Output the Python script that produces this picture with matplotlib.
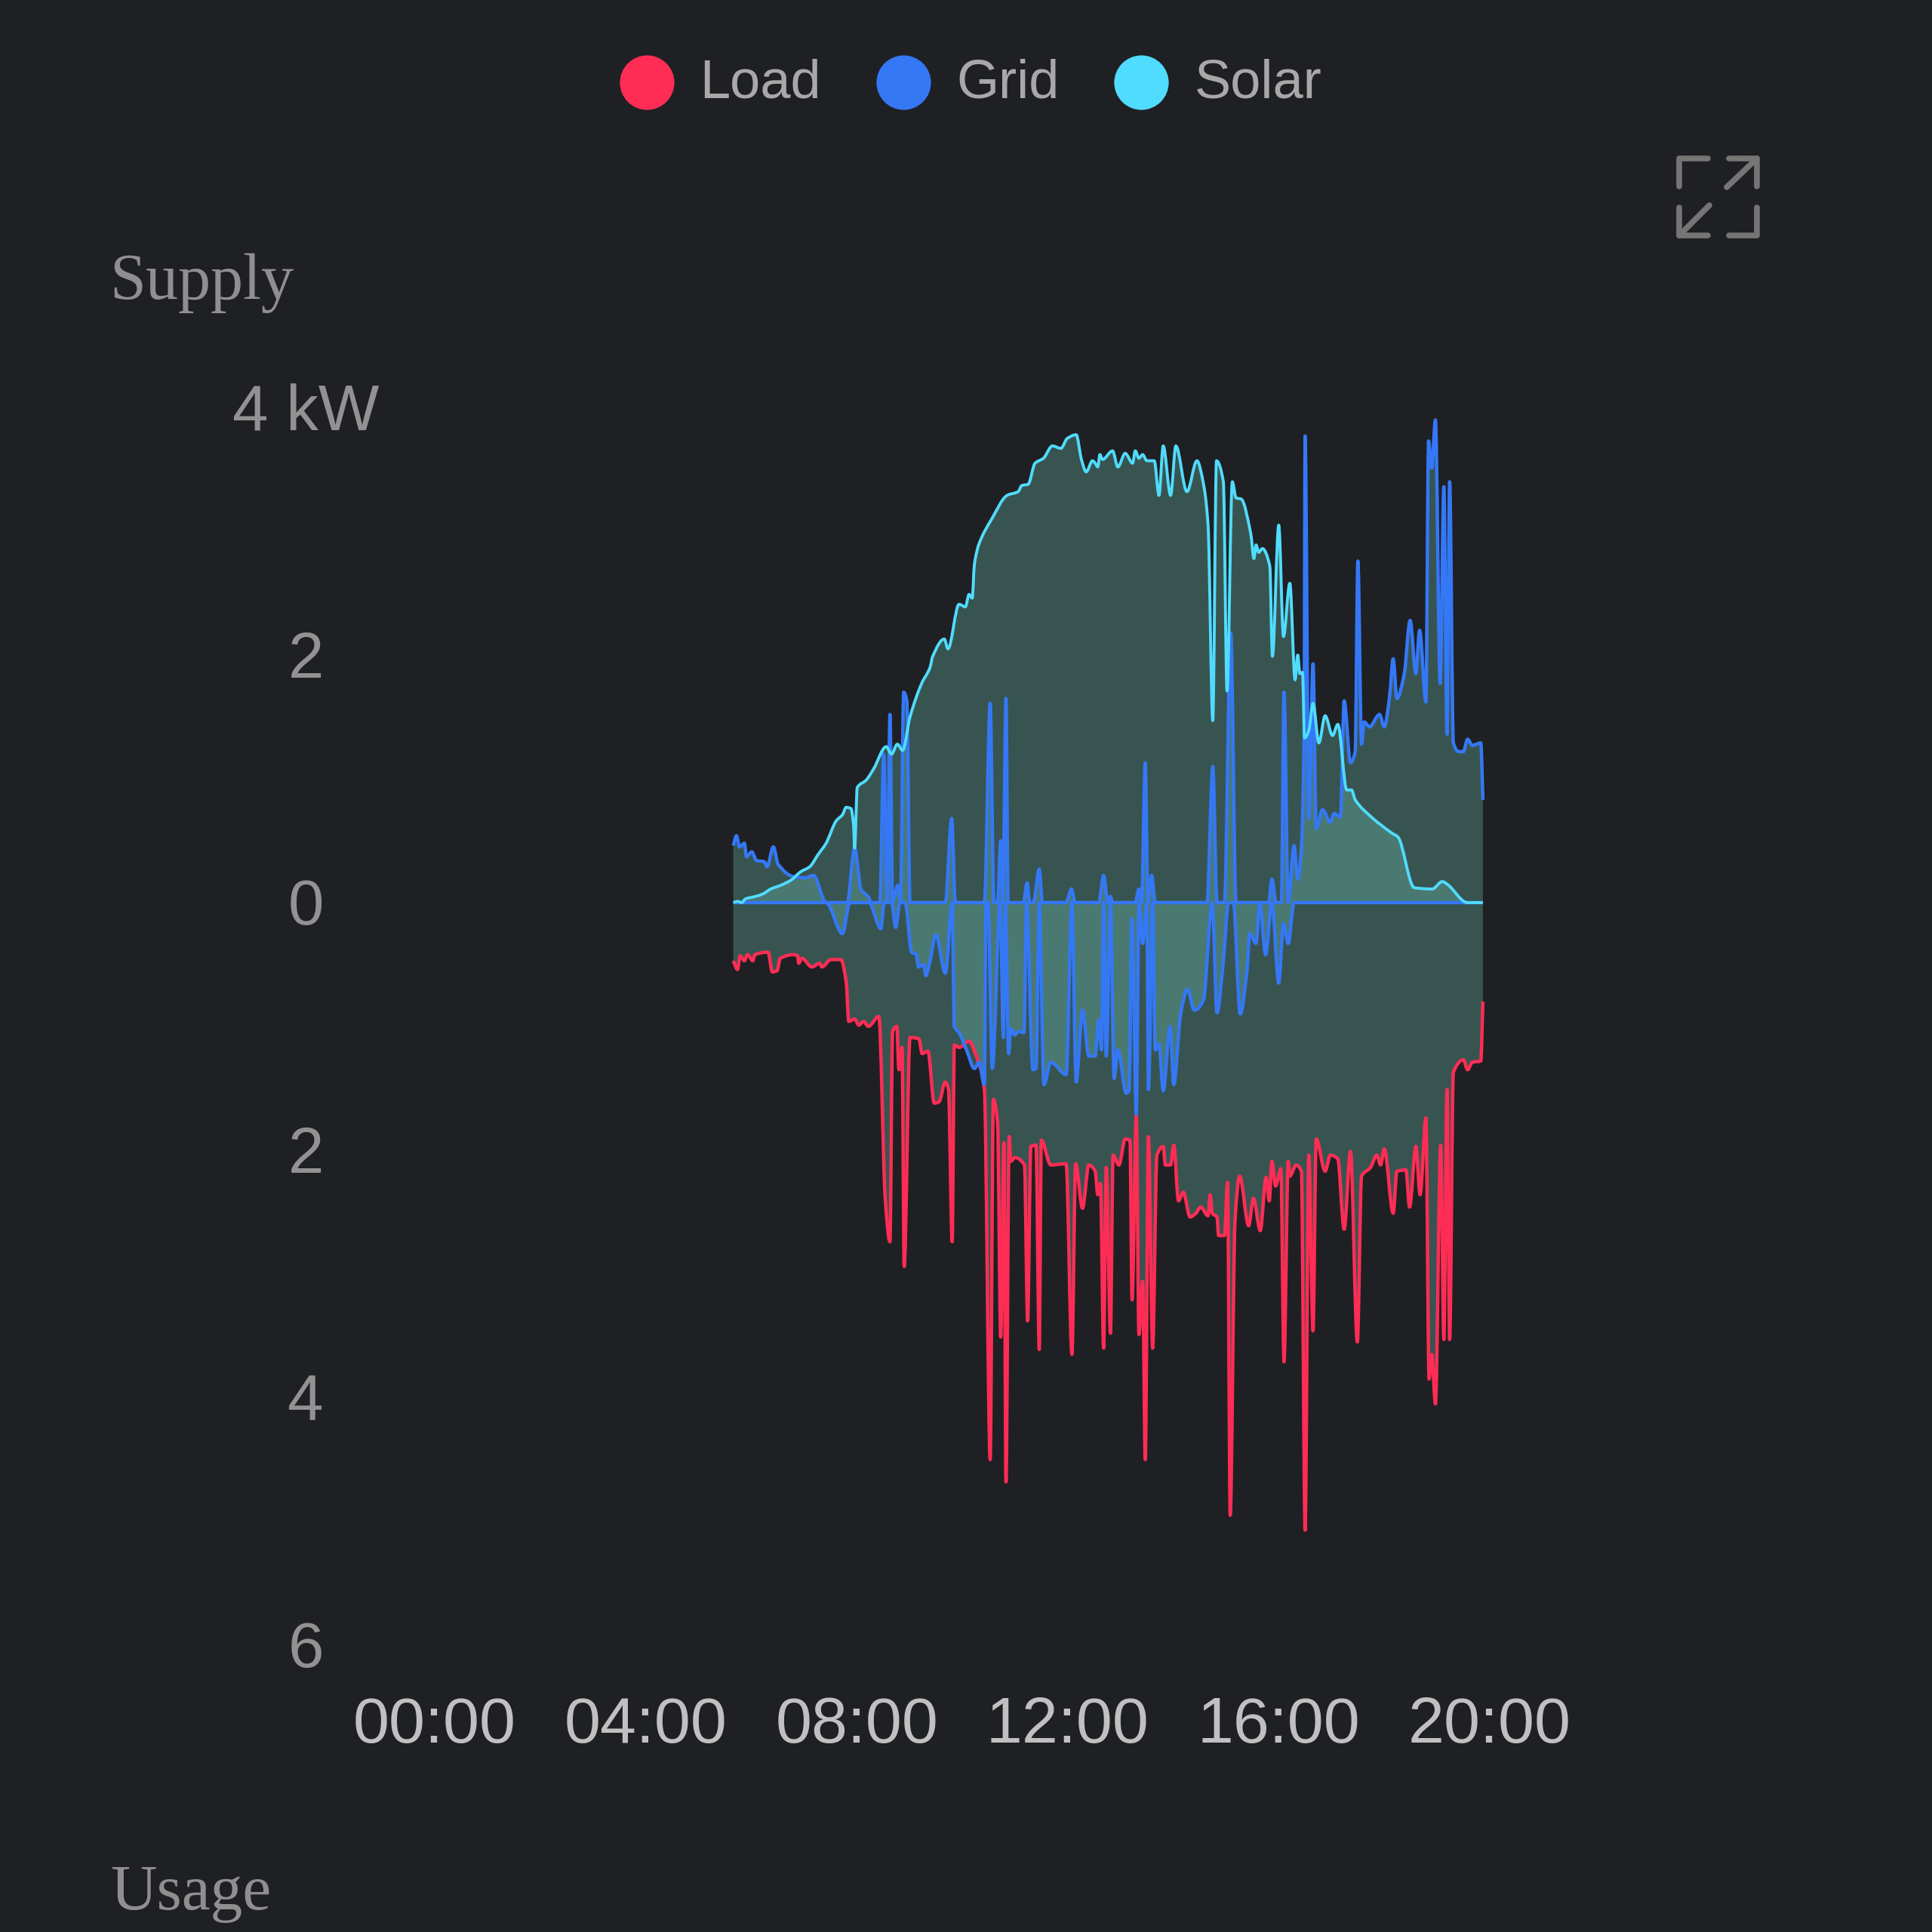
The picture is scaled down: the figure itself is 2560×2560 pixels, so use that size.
import matplotlib
matplotlib.use("Agg")
import matplotlib.pyplot as plt
from matplotlib.lines import Line2D
from matplotlib.patches import PathPatch
from matplotlib.path import Path
from matplotlib.transforms import ScaledTranslation

BG = "#1f2024"
FILL = "#78d4c0"
LOAD_COLOR = "#ff2d55"
GRID_COLOR = "#3478f6"
SOLAR_COLOR = "#50dcff"

# hours since midnight, kW
solar_t = [5.66, 5.75, 5.82, 5.89, 6.08, 6.22, 6.37, 6.56, 6.75, 6.94, 7.11, 7.27, 7.42, 7.61, 7.73, 7.80, 7.89, 7.94,
           7.96, 8.01, 8.18, 8.32, 8.56, 8.66, 8.77, 8.87, 9.01, 9.23, 9.39, 9.44, 9.66, 9.73, 9.94, 10.06, 10.13,
           10.19, 10.23, 10.32, 10.56, 10.85, 11.06, 11.13, 11.25, 11.38, 11.54, 11.71, 11.87, 11.99, 12.16, 12.26,
           12.35, 12.47, 12.52, 12.57, 12.61, 12.66, 12.85, 12.95, 13.09, 13.23, 13.28, 13.35, 13.42, 13.50, 13.64,
           13.73, 13.81, 13.95, 14.05, 14.26, 14.45, 14.57, 14.66, 14.75, 14.82, 14.95, 15.02, 15.12, 15.19, 15.29,
           15.47, 15.53, 15.57, 15.62, 15.69, 15.83, 15.88, 16.00, 16.09, 16.21, 16.31, 16.36, 16.40, 16.45, 16.49,
           16.57, 16.65, 16.76, 16.88, 17.02, 17.12, 17.29, 17.38, 17.45, 17.76, 18.15, 18.26, 18.57, 18.91, 19.10,
           19.19, 19.58, 19.67, 19.87]
solar_kw = [0, 0.01, 0, 0.03, 0.05, 0.07, 0.11, 0.14, 0.18, 0.25, 0.29, 0.39, 0.48, 0.66, 0.71, 0.77, 0.76, 0.63,
            0.44, 0.93, 0.99, 1.08, 1.26, 1.20, 1.28, 1.23, 1.50, 1.77, 1.90, 1.99, 2.13, 2.05, 2.41, 2.39, 2.49,
            2.46, 2.73, 2.90, 3.10, 3.29, 3.32, 3.37, 3.38, 3.55, 3.59, 3.69, 3.67, 3.75, 3.78, 3.58,
            3.48, 3.57, 3.55, 3.52, 3.62, 3.58, 3.65, 3.52, 3.63, 3.55, 3.65, 3.59, 3.62, 3.57, 3.57,
            3.29, 3.69, 3.29, 3.69, 3.32, 3.57, 3.39, 3.05, 1.47, 3.57, 3.40, 1.71, 3.40, 3.27, 3.26,
            2.98, 2.78, 2.89, 2.83, 2.86, 2.72, 1.99, 3.05, 2.15, 2.58, 1.80, 2.00, 1.85, 1.86, 1.33,
            1.39, 1.61, 1.29, 1.51, 1.35, 1.44, 0.91, 0.91, 0.83, 0.69, 0.56, 0.53, 0.12, 0.11, 0.17,
            0.15, 0, 0, 0]

grid_in_t = [5.66, 5.72, 5.78, 5.87, 5.91, 6.01, 6.10, 6.25, 6.30, 6.42, 6.51, 6.80, 7.03, 7.18, 7.42, 7.82, 7.96,
             8.08, 8.23, 8.27, 8.44, 8.51, 8.58, 8.63, 8.68, 8.73, 8.78, 8.83, 8.89, 8.95, 9.01, 9.68, 9.80, 9.87,
             10.42, 10.53, 10.60, 10.67, 10.73, 10.77, 10.83, 10.87, 11.16, 11.23, 11.28, 11.35, 11.46, 11.52, 11.97,
             12.07, 12.14, 12.59, 12.68, 12.76, 12.81, 12.85, 13.28, 13.35, 13.40, 13.47, 13.52, 13.59, 13.66, 14.64,
             14.75, 14.83, 14.97, 15.09, 15.19, 15.81, 15.87, 15.95, 16.05, 16.10, 16.18, 16.29, 16.36, 16.43, 16.48,
             16.50, 16.57, 16.65, 16.71, 16.83, 16.98, 17.05, 17.17, 17.24, 17.36, 17.45, 17.50, 17.57, 17.62, 17.72,
             17.91, 18.00, 18.10, 18.17, 18.24, 18.38, 18.49, 18.60, 18.67, 18.79, 18.84, 18.90, 18.97, 19.06, 19.13,
             19.19, 19.24, 19.31, 19.41, 19.50, 19.58, 19.67, 19.83, 19.87]
grid_in_kw = [0.46, 0.54, 0.45, 0.48, 0.37, 0.41, 0.34, 0.33, 0.29, 0.45, 0.31, 0.21, 0.20, 0.22, 0, 0, 0.44,
              0.11, 0.04, 0, 0, 1.20, 0, 1.52, 0, 0.08, 0.14, 0, 1.70, 1.63, 0, 0, 0.68, 0,
              0, 1.61, 0, 0, 0.50, 0, 1.65, 0, 0, 0.16, 0, 0, 0.27, 0, 0,
              0.11, 0, 0, 0.22, 0, 0.05, 0, 0, 0.11, 0, 1.13, 0, 0.22, 0, 0,
              1.10, 0, 0, 2.18, 0, 0, 0.19, 0, 0, 1.70, 0, 0.46, 0.19, 0.44, 1.32,
              3.77, 0.68, 1.93, 0.60, 0.75, 0.65, 0.72, 0.69, 1.63, 1.13, 1.22, 2.76, 1.28, 1.46, 1.42,
              1.52, 1.42, 1.66, 1.97, 1.65, 1.85, 2.28, 1.85, 2.20, 1.62, 3.73, 3.51, 3.90, 1.77, 3.36,
              1.36, 3.40, 1.29, 1.22, 1.22, 1.32, 1.27, 1.29, 0.83]

grid_out_t = [5.66, 7.42, 7.73, 7.87, 8.23, 8.46, 8.52, 8.66, 8.74, 8.82, 8.92, 9.04, 9.13, 9.17, 9.27, 9.31, 9.39,
              9.50, 9.68, 9.81, 9.85, 9.94, 10.09, 10.23, 10.32, 10.42, 10.45, 10.49, 10.57, 10.72, 10.78, 10.82,
              10.88, 10.92, 11.00, 11.06, 11.17, 11.22, 11.34, 11.40, 11.46, 11.55, 11.68, 11.97, 12.08, 12.16, 12.28,
              12.40, 12.52, 12.59, 12.64, 12.68, 12.73, 12.81, 12.88, 12.95, 13.11, 13.16, 13.22, 13.30, 13.35, 13.42,
              13.50, 13.53, 13.61, 13.66, 13.73, 13.81, 13.94, 14.01, 14.14, 14.27, 14.40, 14.57, 14.74, 14.83, 14.95,
              15.05, 15.14, 15.27, 15.40, 15.45, 15.57, 15.64, 15.75, 15.87, 16.00, 16.09, 16.18, 16.29, 19.87]
grid_out_kw = [0, 0, -0.25, 0, 0, -0.21, 0, 0, -0.20, 0, 0, -0.40, -0.42, -0.52, -0.50, -0.59, -0.47,
               -0.26, -0.57, 0, -1.00, -1.05, -1.20, -1.34, -1.29, -1.47, 0, 0, -1.34, 0, -1.09, 0,
               -1.22, -1.02, -1.07, -1.04, -1.05, 0, -1.35, -1.34, 0, -1.47, -1.29, -1.39, 0, -1.45, -0.87,
               -1.24, -1.24, -0.95, -1.19, 0, -1.24, 0, -1.42, -1.19, -1.54, -1.52, -0.13, -1.71, 0, -0.33,
               0, -1.51, 0, -1.19, -1.14, -1.52, -1.00, -1.47, -0.90, -0.70, -0.87, -0.79, 0, -0.89, -0.47,
               0, 0, -0.90, -0.54, -0.25, -0.33, 0, -0.42, 0, -0.65, -0.17, -0.33, 0, 0]

load_t = [5.66, 5.74, 5.79, 5.87, 5.93, 6.03, 6.07, 6.32, 6.40, 6.49, 6.55, 6.80, 6.88, 6.90, 6.96, 7.15, 7.30, 7.34,
          7.51, 7.70, 7.80, 7.85, 7.96, 8.04, 8.13, 8.22, 8.42, 8.54, 8.63, 8.68, 8.76, 8.80, 8.86, 8.90, 9.01, 9.18,
          9.24, 9.35, 9.47, 9.56, 9.68, 9.74, 9.81, 9.85, 9.94, 10.13, 10.25, 10.42, 10.53, 10.59, 10.67, 10.73,
          10.79, 10.83, 10.89, 10.92, 11.00, 11.18, 11.24, 11.30, 11.40, 11.46, 11.50, 11.68, 11.97, 12.08, 12.15,
          12.28, 12.40, 12.52, 12.57, 12.62, 12.68, 12.73, 12.81, 12.86, 12.97, 13.09, 13.18, 13.22, 13.30, 13.35,
          13.42, 13.47, 13.53, 13.61, 13.69, 13.81, 13.85, 13.95, 14.01, 14.10, 14.19, 14.32, 14.43, 14.52, 14.66,
          14.70, 14.74, 14.83, 14.86, 14.97, 15.03, 15.08, 15.17, 15.26, 15.43, 15.52, 15.65, 15.76, 15.82, 15.87,
          15.94, 16.04, 16.10, 16.18, 16.21, 16.33, 16.43, 16.50, 16.57, 16.65, 16.71, 16.88, 16.98, 17.12, 17.24,
          17.36, 17.49, 17.57, 17.74, 17.86, 17.93, 18.00, 18.17, 18.24, 18.41, 18.48, 18.60, 18.68, 18.79, 18.85,
          18.90, 18.97, 19.07, 19.13, 19.19, 19.24, 19.31, 19.50, 19.58, 19.67, 19.83, 19.87]
load_kw = [-0.47, -0.54, -0.43, -0.47, -0.42, -0.47, -0.42, -0.40, -0.56, -0.55, -0.45, -0.42, -0.43, -0.49, -0.45,
           -0.52, -0.49, -0.52, -0.46, -0.46, -0.64, -0.96, -0.94, -0.99, -0.96, -1.00, -0.92, -2.39, -2.74, -1.04,
           -1.00, -1.35, -1.17, -2.94, -1.09, -1.10, -1.22, -1.20, -1.62, -1.61, -1.45, -1.51, -2.74, -1.15, -1.17,
           -1.12, -1.22, -1.51, -4.50, -1.59, -1.77, -3.51, -1.94, -4.68, -1.89, -2.09, -2.06, -2.12, -3.38, -1.97,
           -1.96, -3.61, -1.92, -2.12, -2.11, -3.65, -2.11, -2.47, -2.12, -2.17, -2.36, -2.27, -3.60, -2.14, -3.48,
           -2.04, -2.12, -1.91, -1.92, -3.21, -1.72, -3.49, -3.06, -4.50, -1.89, -3.60, -2.04, -1.97, -2.12, -2.12,
           -1.96, -2.41, -2.34, -2.54, -2.51, -2.46, -2.53, -2.36, -2.51, -2.54, -2.69, -2.69, -2.26, -4.95, -2.58,
           -2.21, -2.61, -2.39, -2.65, -2.22, -2.41, -2.09, -2.29, -2.15, -3.71, -2.09, -2.21, -2.12, -2.17, -5.07,
           -2.04, -3.46, -1.91, -2.17, -2.04, -2.07, -2.64, -2.01, -3.55, -2.21, -2.14, -2.04, -2.12, -1.99, -2.51,
           -2.17, -2.16, -2.46, -1.97, -2.36, -1.74, -3.85, -3.65, -4.05, -1.96, -3.53, -1.51, -3.53, -1.37, -1.27,
           -1.35, -1.29, -1.28, -0.80]

hour_ticks = [0, 4, 8, 12, 16, 20]
hour_labels = ["00:00", "04:00", "08:00", "12:00", "16:00", "20:00"]
kw_ticks = [4, 2, 0, -2, -4, -6]
kw_labels = ["4 kW", "2", "0", "2", "4", "6"]
legend_names = ["Load", "Grid", "Solar"]
legend_colors = [LOAD_COLOR, GRID_COLOR, SOLAR_COLOR]

SIZE = 2560


def fx(px):
    return px / SIZE


def fy(py):
    return 1 - py / SIZE


def curve(t, kw):
    # monotone cubic through the read points, the chart draws its lines with tension
    slopes = [(kw[i + 1] - kw[i]) / (t[i + 1] - t[i]) for i in range(len(t) - 1)]
    tangents = [slopes[0]]
    for a, b in zip(slopes, slopes[1:]):
        tangents.append(0 if a * b <= 0 else 2 * a * b / (a + b))
    tangents.append(slopes[-1])

    verts = [(t[0], kw[0])]
    codes = [Path.MOVETO]
    for i in range(len(t) - 1):
        dx = (t[i + 1] - t[i]) / 3
        verts += [(t[i] + dx, kw[i] + tangents[i] * dx),
                  (t[i + 1] - dx, kw[i + 1] - tangents[i + 1] * dx),
                  (t[i + 1], kw[i + 1])]
        codes += [Path.CURVE4] * 3
    return verts, codes


def draw_series(ax, t, kw, color, width, zorder):
    verts, codes = curve(t, kw)
    area = verts + [(t[-1], 0), (t[0], 0), (t[0], 0)]
    area_codes = codes + [Path.LINETO, Path.LINETO, Path.CLOSEPOLY]
    ax.add_patch(PathPatch(Path(area, area_codes), facecolor=FILL, alpha=0.29, linewidth=0, zorder=1))
    ax.add_patch(PathPatch(Path(verts, codes), fill=False, edgecolor=color, linewidth=width,
                           joinstyle="round", capstyle="butt", zorder=zorder))


fig = plt.figure(figsize=(25.6, 25.6), dpi=100, facecolor=BG)
ax = fig.add_axes([fx(576), fy(2180), fx(1974 - 576), (2180 - 540) / SIZE], facecolor=BG)

draw_series(ax, load_t, load_kw, LOAD_COLOR, 3.2, 3)
draw_series(ax, grid_out_t, grid_out_kw, GRID_COLOR, 3.2, 4)
draw_series(ax, grid_in_t, grid_in_kw, GRID_COLOR, 3.2, 4)
draw_series(ax, solar_t, solar_kw, SOLAR_COLOR, 2.8, 5)

ax.set_xlim(0, 20)
ax.set_ylim(-6, 4)
for side in ax.spines.values():
    side.set_visible(False)

ax.set_xticks(hour_ticks)
ax.set_xticklabels(hour_labels, fontfamily="Liberation Sans", fontsize=62, color="#c0c0c0")
ax.set_yticks(kw_ticks)
ax.set_yticklabels(kw_labels, fontfamily="Liberation Sans", fontsize=61.5, color="#929292", ha="center")
ax.tick_params(axis="x", length=0, pad=48)
ax.tick_params(axis="y", length=0, pad=123)
nudge = ScaledTranslation(0, 1.5 / 100, fig.dpi_scale_trans)
for lab in ax.get_yticklabels():
    lab.set_transform(lab.get_transform() + nudge)

handles = [Line2D([], [], linestyle="none", marker="o", markersize=52, markeredgewidth=0, color=c)
           for c in legend_colors]
leg = fig.legend(handles, legend_names, ncols=3, loc="center", bbox_to_anchor=(fx(1286), fy(111)), frameon=False,
                 prop={"family": "Liberation Sans", "size": 52}, labelcolor="#a8a8a8", borderpad=0, borderaxespad=0,
                 handlelength=1.0, handletextpad=0.475, columnspacing=1.01)
for h in leg.legend_handles:
    h.set_ydata([y - 3.5 for y in h.get_ydata()])

fig.text(fx(145), fy(396), "Supply", family="Liberation Serif", fontsize=62, color="#8f8f8f", va="baseline")
fig.text(fx(146), fy(2530), "Usage", family="Liberation Serif", fontsize=61.5, color="#8f8f8f", va="baseline")

# expand icon, top right
icon_strokes = [
    [(2225, 247), (2225, 210), (2263, 210)],
    [(2291, 210), (2328, 210), (2328, 247)],
    [(2288, 248), (2328, 210)],
    [(2225, 275), (2225, 312), (2263, 312)],
    [(2265, 272), (2225, 312)],
    [(2328, 275), (2328, 312), (2291, 312)],
]
for stroke in icon_strokes:
    fig.add_artist(Line2D([fx(p[0]) for p in stroke], [fy(p[1]) for p in stroke], color="#757575", lw=5.5,
                          solid_capstyle="round", solid_joinstyle="round"))

fig.savefig("out.png", dpi=100, facecolor=BG)
